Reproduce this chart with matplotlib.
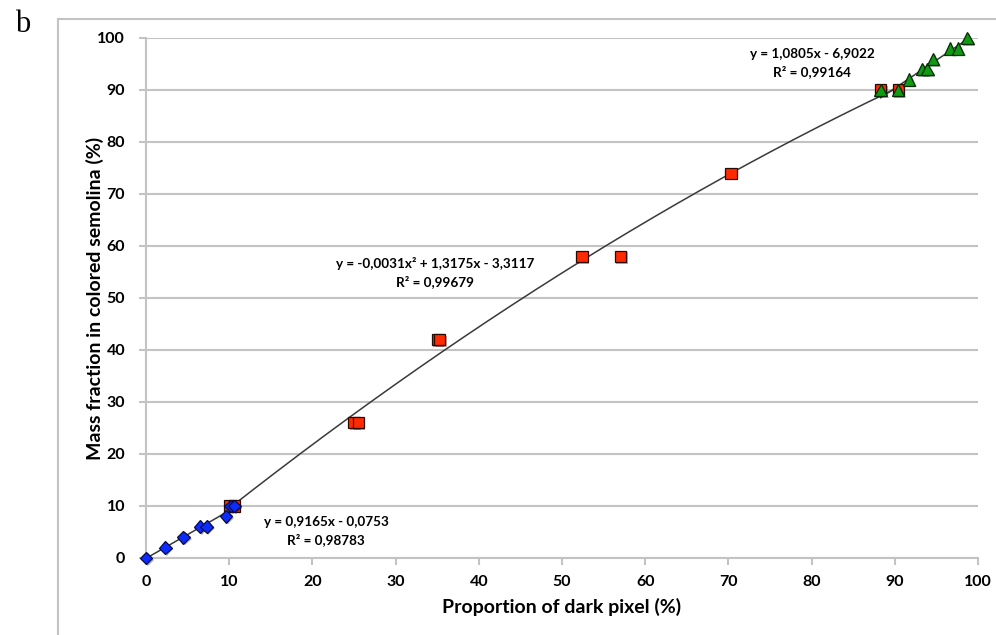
import numpy as np
import matplotlib.pyplot as plt
import matplotlib.patheffects as pe
from matplotlib.lines import Line2D

# --- Datos ---
blue_x = [0, 2.3, 4.5, 6.5, 7.3, 9.6, 10.2, 10.6]
blue_y = [0, 2, 4, 6, 6, 8, 10, 10]

red_x = [10.1, 10.6, 25.0, 25.5, 35.0, 35.3, 52.4, 57.0, 70.3, 88.3, 90.4]
red_y = [10, 10, 26, 26, 42, 42, 58, 58, 74, 90, 90]

green_x = [88.3, 90.4, 91.7, 93.3, 93.9, 94.6, 96.6, 97.6, 98.7]
green_y = [90, 90, 92, 94, 94, 96, 98, 98, 100]

# Coeficientes de las líneas de tendencia (texto del gráfico)
blue_fit = [0.9165, -0.0753]
red_fit = [-0.0031, 1.3175, -3.3117]
green_fit = [1.0805, -6.9022]

blue_eq = ["y = 0,9165x - 0,0753", "R\u00b2 = 0,98783"]
red_eq = ["y = -0,0031x\u00b2 + 1,3175x - 3,3117", "R\u00b2 = 0,99679"]
green_eq = ["y = 1,0805x - 6,9022", "R\u00b2 = 0,99164"]

FONT = "Lato"
GRID = "#c3c3c3"

plt.rcParams['font.family'] = [FONT, 'DejaVu Sans']

fig = plt.figure(figsize=(9.96, 6.35), dpi=100)
ax = fig.add_axes([0.1466, 0.1213, 0.8354, 0.8189])

# Marco exterior (sólo se ven borde superior e izquierdo)
fig.add_artist(Line2D([58 / 996, 1.0], [1 - 19 / 635] * 2, color=GRID, lw=1.5))
fig.add_artist(Line2D([58 / 996] * 2, [0.0, 1 - 19 / 635], color=GRID, lw=1.5))

# Líneas de tendencia
for xs, coef in [(blue_x, blue_fit), (red_x, red_fit), (green_x, green_fit)]:
    xx = np.linspace(min(xs), max(xs), 200)
    ax.plot(xx, np.polyval(coef, xx), color="#3a3a3a", lw=1.1, zorder=2)

shadow = [pe.SimplePatchShadow(offset=(1.2, -1.2), alpha=0.35), pe.Normal()]
ax.plot(red_x, red_y, ls="none", marker="s", ms=8, mfc="#ff2a00", mec="#2a0a00",
        mew=0.9, zorder=3, path_effects=shadow, clip_on=False)
ax.plot(blue_x, blue_y, ls="none", marker="D", ms=6.5, mfc="#0a2cff", mec="#0a0a40",
        mew=0.9, zorder=4, path_effects=shadow, clip_on=False)
ax.plot(green_x, green_y, ls="none", marker="^", ms=9, mfc="#0f9a12", mec="#062a06",
        mew=0.9, zorder=5, path_effects=shadow, clip_on=False)

ax.set_xlim(0, 100)
ax.set_ylim(0, 100)
ax.set_xticks(np.arange(0, 101, 10))
ax.set_yticks(np.arange(0, 101, 10))
ax.yaxis.grid(True, color=GRID, lw=1.5)
ax.set_axisbelow(True)
for s in ["top", "right"]:
    ax.spines[s].set_visible(False)
for s in ["left", "bottom"]:
    ax.spines[s].set_color(GRID)
    ax.spines[s].set_linewidth(1.5)
ax.tick_params(axis="both", colors=GRID, length=5, width=1.5, labelsize=11.5,
               labelcolor="black")
ax.tick_params(axis="y", pad=10)
ax.tick_params(axis="x", pad=7)
for lbl in ax.get_xticklabels() + ax.get_yticklabels():
    lbl.set_fontweight("bold")

ax.set_xlabel("Proportion of dark pixel (%)", fontsize=14, fontweight="bold", va="center")
ax.set_ylabel("Mass fraction in colored semolina (%)", fontsize=14, fontweight="bold", va="center")
ax.xaxis.set_label_coords(0.5, -0.094)
ax.yaxis.set_label_coords(-0.0613, 0.5)

# Ecuaciones (posición en píxeles de la figura)
for (px, py), lines in [((326, 522), blue_eq), ((435, 264), red_eq), ((812, 54), green_eq)]:
    fx, fy = px / 996, 1 - py / 635
    fig.text(fx, fy, lines[0], ha="center", va="center", fontsize=9.7, fontweight="bold")
    fig.text(fx, fy - 18 / 635, lines[1], ha="center", va="center", fontsize=9.7,
             fontweight="bold")

fig.text(15 / 996, 1 - 25 / 635, "b", fontsize=22, family="Liberation Serif",
         ha="left", va="center")

fig.savefig("out.png", dpi=100)
